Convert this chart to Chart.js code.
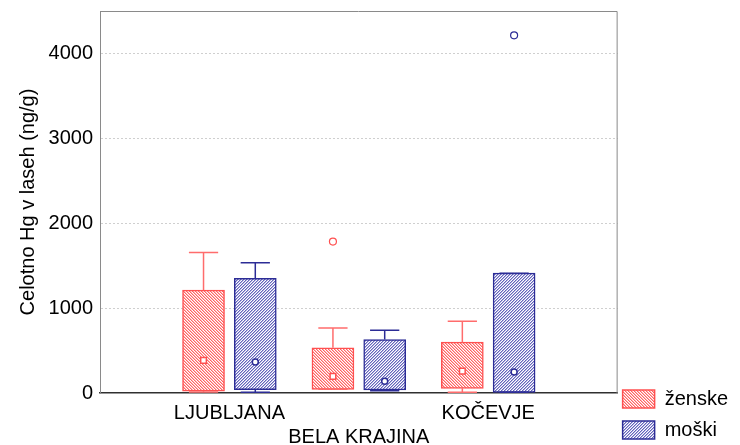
<!DOCTYPE html>
<html>
<head>
<meta charset="utf-8">
<script src="https://cdn.jsdelivr.net/npm/chart.js@4"></script>
<style>
  html, body { margin: 0; padding: 0; background: #fff; }
</style>
</head>
<body>
<canvas id="chart" width="740" height="445"></canvas>
<script>
// categories and tick labels
const categories = ['LJUBLJANA', 'BELA KRAJINA', 'KOČEVJE'];
const seriesNames = ['ženske', 'moški'];
const yTicks = [0, 1000, 2000, 3000, 4000];

// ženske (ng/g)
const zenskeMin = [12, 43, 8];
const zenskeQ1 = [23, 43, 55];
const zenskeQ3 = [1212, 532, 599];
const zenskeMax = [1655, 766, 845];
const zenskeMid = [384, 196, 258];
const zenskeOutCat = [2];
const zenskeOutVal = [1784];

// moški (ng/g)
const moskiMin = [8, 27, 8];
const moskiQ1 = [39, 35, 8];
const moskiQ3 = [1350, 630, 1412];
const moskiMax = [1534, 739, 1412];
const moskiMid = [364, 137, 246];
const moskiOutCat = [3];
const moskiOutVal = [4214];

const RED = '#ff5050';
const BLUE = '#2c2c96';
const OFF = 0.2;   // side offset of each box from the category
const CAP = 0.113; // half width of whisker caps

// pixel hatch, 3px period; forward = '/' else '\'
function hatch(full, half, forward) {
  const s = 3;
  const c = document.createElement('canvas');
  c.width = s; c.height = s;
  const g = c.getContext('2d');
  g.fillStyle = '#fff';
  g.fillRect(0, 0, s, s);
  for (let y = 0; y < s; y++) {
    for (let x = 0; x < s; x++) {
      const k = forward ? (x + y) % s : ((x - y) % s + s) % s;
      if (k === 0) { g.fillStyle = full; g.fillRect(x, y, 1, 1); }
      else if (k === 1) { g.fillStyle = half; g.fillRect(x, y, 1, 1); }
    }
  }
  return g.createPattern(c, 'repeat');
}

function boxData(off, q1, q3) {
  return categories.map((_, i) => ({ x: i + 1 + off, y: [q1[i], q3[i]] }));
}

function whiskerData(off, lo, q1, q3, hi) {
  const pts = [];
  categories.forEach((_, i) => {
    const x = i + 1 + off;
    pts.push({ x: x, y: q3[i] }, { x: x, y: hi[i] }, { x: x, y: null });
    pts.push({ x: x - CAP, y: hi[i] }, { x: x + CAP, y: hi[i] }, { x: x, y: null });
    pts.push({ x: x, y: q1[i] }, { x: x, y: lo[i] }, { x: x, y: null });
    pts.push({ x: x - CAP, y: lo[i] }, { x: x + CAP, y: lo[i] }, { x: x, y: null });
  });
  return pts;
}

function pointData(off, cats, vals) {
  return cats.map((c, i) => ({ x: c + off, y: vals[i] }));
}

const framePlugin = {
  id: 'frame',
  afterLayout(chart) {
    // legend sits a little lower and further left than Chart.js puts it
    const l = chart.legend;
    l.left -= 6; l.right -= 6;
    l.top += 6; l.bottom += 6;
  },
  afterDraw(chart) {
    const a = chart.chartArea;
    const ctx = chart.ctx;
    ctx.save();
    ctx.strokeStyle = '#8a8a8a';
    ctx.lineWidth = 1;
    ctx.beginPath();
    ctx.moveTo(a.left, a.top + 0.5);
    ctx.lineTo(a.right - 0.5, a.top + 0.5);
    ctx.lineTo(a.right - 0.5, a.bottom);
    ctx.stroke();
    ctx.restore();
  }
};

const font = { family: '"Liberation Sans", Arial, sans-serif', size: 20 };

new Chart(document.getElementById('chart'), {
  type: 'bar',
  data: {
    datasets: [
      {
        type: 'bar', label: seriesNames[0], order: 3, grouped: false,
        data: boxData(-OFF, zenskeQ1, zenskeQ3),
        backgroundColor: hatch('#ff6464', '#ffb4b4', false), borderColor: RED,
        borderWidth: 1.5, borderSkipped: false, barThickness: 42
      },
      {
        type: 'bar', label: seriesNames[1], order: 3, grouped: false,
        data: boxData(OFF, moskiQ1, moskiQ3),
        backgroundColor: hatch('#6464bc', '#b4b4e0', true), borderColor: BLUE,
        borderWidth: 1.5, borderSkipped: false, barThickness: 42
      },
      {
        type: 'line', label: 'w1', order: 2,
        data: whiskerData(-OFF, zenskeMin, zenskeQ1, zenskeQ3, zenskeMax),
        borderColor: '#ff6c6c', borderWidth: 1.5, pointRadius: 0, spanGaps: false
      },
      {
        type: 'line', label: 'w2', order: 2,
        data: whiskerData(OFF, moskiMin, moskiQ1, moskiQ3, moskiMax),
        borderColor: BLUE, borderWidth: 1.5, pointRadius: 0, spanGaps: false
      },
      {
        type: 'scatter', label: 'm1', order: 1,
        data: categories.map((_, i) => ({ x: i + 1 - OFF, y: zenskeMid[i] })),
        pointStyle: 'rect', pointRadius: 4, backgroundColor: '#fff', borderColor: RED, borderWidth: 1.5
      },
      {
        type: 'scatter', label: 'm2', order: 1,
        data: categories.map((_, i) => ({ x: i + 1 + OFF, y: moskiMid[i] })),
        pointStyle: 'circle', pointRadius: 3, backgroundColor: '#fff', borderColor: BLUE, borderWidth: 1.5
      },
      {
        type: 'scatter', label: 'o1', order: 1,
        data: pointData(-OFF, zenskeOutCat, zenskeOutVal),
        pointStyle: 'circle', pointRadius: 3.5, backgroundColor: '#fff', borderColor: RED, borderWidth: 1.2
      },
      {
        type: 'scatter', label: 'o2', order: 1,
        data: pointData(OFF, moskiOutCat, moskiOutVal),
        pointStyle: 'circle', pointRadius: 3.5, backgroundColor: '#fff', borderColor: BLUE, borderWidth: 1.2
      }
    ]
  },
  options: {
    responsive: false,
    animation: false,
    layout: { padding: { top: 11, left: 0, right: -4, bottom: 0 } },
    plugins: {
      tooltip: { enabled: false },
      legend: {
        position: 'right',
        align: 'end',
        labels: {
          filter: (item) => seriesNames.includes(item.text),
          boxWidth: 32,
          boxHeight: 18,
          padding: 11,
          color: '#000',
          font: font
        }
      }
    },
    scales: {
      x: {
        type: 'linear',
        offset: false,
        min: 0,
        max: 4,
        afterFit: (s) => { s.height = 52; s.paddingLeft = 0; s.paddingRight = 0; },
        afterBuildTicks: (s) => { s.ticks = categories.map((_, i) => ({ value: i + 1 })); },
        ticks: {
          autoSkip: false,
          maxRotation: 0,
          padding: 8,
          color: '#000',
          font: font,
          callback: (v) => {
            const i = Math.round(v) - 1;
            return i === 1 ? ['', categories[i]] : categories[i];
          }
        },
        grid: { display: false, drawTicks: false, offset: false },
        border: { color: '#303030', width: 1.5 }
      },
      y: {
        min: 0,
        max: 4500,
        afterFit: (s) => { s.width = 100; s.paddingTop = 0; s.paddingBottom = 0; },
        afterBuildTicks: (s) => { s.ticks = yTicks.map(v => ({ value: v })); },
        ticks: { padding: 7, color: '#000', font: font, callback: (v) => String(v) },
        grid: {
          drawTicks: false,
          color: (c) => c.tick && c.tick.value === 0 ? 'rgba(0,0,0,0)' : '#cfcfcf'
        },
        border: { color: '#8a8a8a', width: 1, dash: [2, 2] },
        title: {
          display: true,
          text: 'Celotno Hg v laseh (ng/g)',
          color: '#000',
          font: font,
          padding: { top: 16, bottom: 0 }
        }
      }
    }
  },
  plugins: [framePlugin]
});
</script>
</body>
</html>
